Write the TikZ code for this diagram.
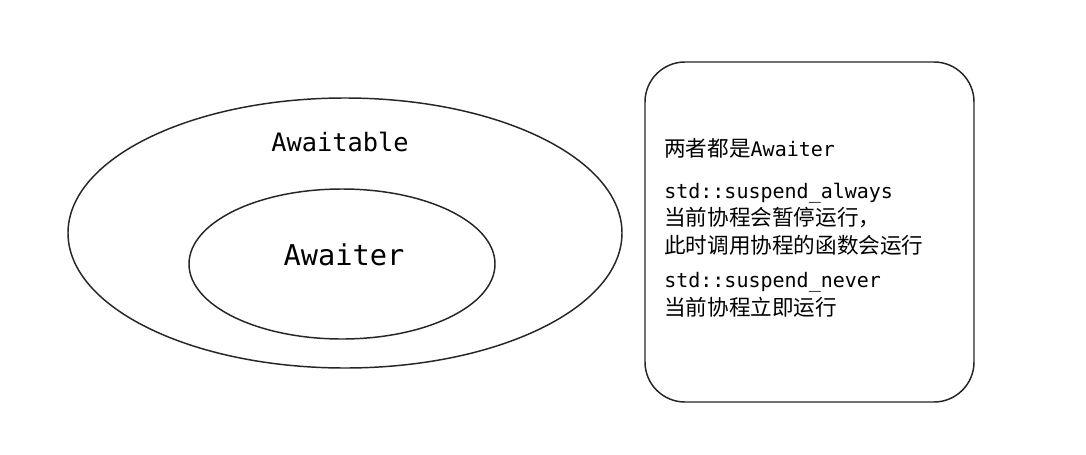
\documentclass[tikz,border=0pt]{standalone}
\usepackage{fontspec}
\setmonofont{DejaVu Sans Mono}
\newfontfamily\cjk{Noto Sans CJK SC}
\begin{document}
\begin{tikzpicture}[x=0.75pt,y=-0.75pt,
  shape outline/.style={draw=black!85, line width=1.1pt},
  latin/.style={font=\ttfamily\fontsize{15}{18}\selectfont, inner sep=0pt, anchor=west},
  han/.style={font=\cjk\fontsize{16.2}{19}\selectfont, inner sep=0pt, anchor=west}]
\useasboundingbox[fill=white] (0,0) rectangle (1086,454);
\draw[shape outline] (345,233) ellipse [x radius=277, y radius=135];
\draw[shape outline] (342,264) ellipse [x radius=153, y radius=75];
\draw[shape outline, rounded corners=30] (645,62) rectangle (974,402);
\node[font=\ttfamily\fontsize{19}{22}\selectfont, inner sep=0pt] (awaitable) at (340,142) {Awaitable};
\node[font=\ttfamily\fontsize{21.5}{24}\selectfont, inner sep=0pt] (awaiter) at (344,255) {Awaiter};
\node[han] (l1) at (664,148) {两者都是{\ttfamily\fontsize{15}{18}\selectfont Awaiter}};
\node[latin] (l2) at (664,193) {std::suspend\_always};
\node[han] (l3) at (664,218) {当前协程会暂停运行，};
\node[han] (l4) at (664,245) {此时调用协程的函数会运行};
\node[latin] (l5) at (664,282) {std::suspend\_never};
\node[han] (l6) at (664,307) {当前协程立即运行};
\end{tikzpicture}
\end{document}
